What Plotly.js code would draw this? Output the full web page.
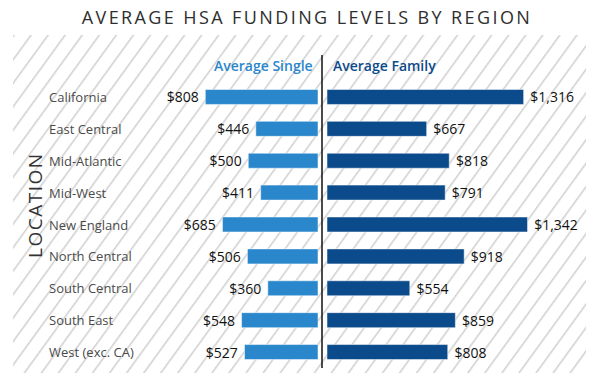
<!DOCTYPE html>
<html>
<head>
<meta charset="utf-8">
<script src="https://cdn.plot.ly/plotly-3.0.1.min.js"></script>
<style>
html,body{margin:0;padding:0;background:#fff;}
#chart{width:600px;height:387px;}
</style>
</head>
<body>
<div id="chart"></div>
<script>
const regions = ["California","East Central","Mid-Atlantic","Mid-West","New England","North Central","South Central","South East","West (exc. CA)"];
const averageSingle = [808,446,500,411,685,506,360,548,527];
const averageFamily = [1316,667,818,791,1342,918,554,859,808];
const titleText = "AVERAGE HSA FUNDING LEVELS BY REGION";
const singleLabel = "Average Single";
const familyLabel = "Average Family";
const axisLabel = "LOCATION";

const W = 600, H = 387;
const px = v => v / W;
const py = v => 1 - v / H;

// striped background as an SVG image
const bgW = 573, bgH = 338;
const svg = `<svg xmlns="http://www.w3.org/2000/svg" width="${bgW}" height="${bgH}" viewBox="0 0 ${bgW} ${bgH}">` +
  `<defs><pattern id="p" patternUnits="userSpaceOnUse" width="13.8" height="40" patternTransform="rotate(36)">` +
  `<rect x="0" y="0" width="1.6" height="40" fill="#d2d2d2"/></pattern></defs>` +
  `<rect width="${bgW}" height="${bgH}" fill="url(#p)"/></svg>`;
const bgSrc = "data:image/svg+xml;charset=utf-8," + encodeURIComponent(svg);

const valueFont = {family: "Open Sans, sans-serif", size: 14, color: "#111", weight: 500};
const fmt = v => "$" + v.toLocaleString("en-US");

const traces = [
  {
    type: "bar", orientation: "h",
    x: averageSingle, y: regions,
    xaxis: "x", yaxis: "y",
    marker: {color: "#2b87cc", line: {color: "#ffffff", width: 0.5}},
    width: 0.47,
    text: averageSingle.map(v => fmt(v) + "\u00a0"),
    textposition: "outside", constraintext: "none", cliponaxis: false,
    textfont: valueFont,
    hoverinfo: "skip"
  },
  {
    type: "bar", orientation: "h",
    x: averageFamily, y: regions,
    xaxis: "x2", yaxis: "y2",
    marker: {color: "#0b4a8b", line: {color: "#ffffff", width: 0.5}},
    width: 0.47,
    text: averageFamily.map(v => "\u00a0" + fmt(v)),
    textposition: "outside", constraintext: "none", cliponaxis: false,
    textfont: valueFont,
    hoverinfo: "skip"
  }
];

const yDomain = [(H - 368) / H, (H - 81) / H];

const annotations = regions.map(r => ({
  xref: "paper", yref: "y", x: px(47), y: r,
  xanchor: "left", yanchor: "middle", showarrow: false,
  text: r, font: {family: "Open Sans, sans-serif", size: 13, color: "#4a4a4a"}
}));
annotations.push({
  xref: "paper", yref: "paper", x: px(315), y: py(66),
  xanchor: "right", yanchor: "middle", showarrow: false,
  text: singleLabel, font: {family: "Open Sans, sans-serif", size: 14, color: "#2b87cc", weight: 600}
});
annotations.push({
  xref: "paper", yref: "paper", x: px(331), y: py(66),
  xanchor: "left", yanchor: "middle", showarrow: false,
  text: familyLabel, font: {family: "Open Sans, sans-serif", size: 14, color: "#0b4a8b", weight: 600}
});
annotations.push({
  xref: "paper", yref: "paper", x: px(35), y: py(205),
  xanchor: "center", yanchor: "middle", showarrow: false, textangle: -90,
  text: axisLabel, font: {family: "Open Sans, sans-serif", size: 19, color: "#333"}
});

const layout = {
  width: W, height: H,
  margin: {l: 0, r: 0, t: 0, b: 0},
  paper_bgcolor: "#ffffff", plot_bgcolor: "rgba(0,0,0,0)",
  showlegend: false,
  title: {
    text: titleText, x: px(307), xanchor: "center", y: py(18), yanchor: "middle",
    xref: "paper", yref: "container",
    font: {family: "Open Sans, sans-serif", size: 18, color: "#2e2e2e"}
  },
  xaxis: {domain: [px(60), px(318)], range: [1850, 0], visible: false, fixedrange: true},
  xaxis2: {domain: [px(327), px(590)], range: [0, 1760], visible: false, fixedrange: true},
  yaxis: {domain: yDomain, type: "category", autorange: "reversed", visible: false, anchor: "x"},
  yaxis2: {domain: yDomain, type: "category", autorange: "reversed", visible: false, anchor: "x2", matches: "y"},
  images: [{
    source: bgSrc, xref: "paper", yref: "paper",
    x: px(13), y: py(35), sizex: bgW / W, sizey: bgH / H,
    xanchor: "left", yanchor: "top", sizing: "stretch", layer: "below"
  }],
  shapes: [{
    type: "line", xref: "paper", yref: "paper",
    x0: px(322), x1: px(322), y0: py(55), y1: py(368),
    line: {color: "#111", width: 1.5}
  }],
  annotations: annotations
};

Plotly.newPlot("chart", traces, layout, {staticPlot: true, displayModeBar: false}).then(() => {
  document.querySelectorAll(".gtitle").forEach(t => { t.style.letterSpacing = "2.4px"; });
  document.querySelectorAll(".annotation-text").forEach(t => {
    if (t.textContent === axisLabel) t.style.letterSpacing = "1.5px";
  });
});
</script>
</body>
</html>
